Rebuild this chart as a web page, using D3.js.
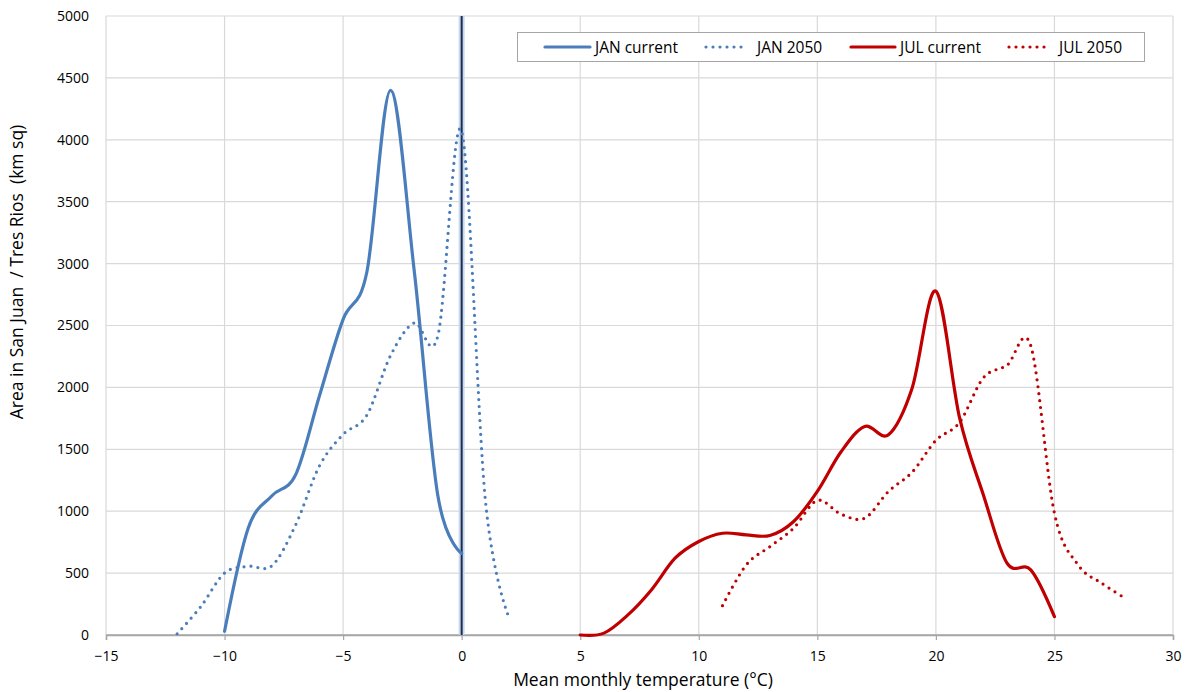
<!DOCTYPE html>
<html>
<head>
<meta charset="utf-8">
<script src="https://cdn.jsdelivr.net/npm/d3@7"></script>
<style>
  body { margin: 0; background: #fff; }
  text { font-family: "Open Sans", Lato, sans-serif; fill: #000; }
</style>
</head>
<body>
<div id="chart"></div>
<script>
// Series
const janCurrentTemp = [-10, -9, -8, -7, -6, -5, -4, -3, -2, -1, 0];
const janCurrentArea = [30, 865, 1125, 1295, 1930, 2550, 2930, 4400, 2940, 1120, 660];

const jan2050Temp = [-12, -11, -10, -9, -8, -7, -6, -5, -4, -3, -2, -1, 0, 1, 2];
const jan2050Area = [10, 230, 500, 555, 560, 890, 1365, 1620, 1775, 2257, 2521, 2420, 4070, 1090, 140];

const julCurrentTemp = [5, 6, 7, 8, 9, 10, 11, 12, 13, 14, 15, 16, 17, 18, 19, 20, 21, 22, 23, 24, 25];
const julCurrentArea = [0, 15, 160, 364, 620, 755, 822, 809, 804, 917, 1160, 1480, 1685, 1618, 1996, 2778, 1753, 1133, 580, 526, 148];

const jul2050Temp = [11, 12, 13, 14, 15, 16, 17, 18, 19, 20, 21, 22, 23, 24, 25, 26, 27, 28];
const jul2050Area = [237, 566, 714, 863, 1087, 976, 944, 1160, 1316, 1572, 1718, 2077, 2179, 2338, 984, 566, 418, 295];

const seriesNames = ["JAN current", "JAN 2050", "JUL current", "JUL 2050"];
const xTicks = [-15, -10, -5, 0, 5, 10, 15, 20, 25, 30];
const yTicks = [0, 500, 1000, 1500, 2000, 2500, 3000, 3500, 4000, 4500, 5000];

function init() {
    var w = 1187;
    var h = 692;
    var left = 106, right = 1173, top = 16, bottom = 635;

    const svg = d3.select("#chart")
        .append("svg")
        .attr("width", w)
        .attr("height", h);

    const xScale = d3.scaleLinear().domain([-15, 30]).range([left, right]);
    const yScale = d3.scaleLinear().domain([0, 5000]).range([bottom, top]);

    // gridlines
    svg.append("g").selectAll("line")
        .data(yTicks.filter(d => d > 0))
        .enter().append("line")
        .attr("x1", left).attr("x2", right)
        .attr("y1", d => yScale(d)).attr("y2", d => yScale(d))
        .attr("stroke", "#d9d9d9").attr("stroke-width", 1.2);

    svg.append("g").selectAll("line")
        .data(xTicks)
        .enter().append("line")
        .attr("x1", d => xScale(d)).attr("x2", d => xScale(d))
        .attr("y1", top).attr("y2", bottom)
        .attr("stroke", "#d9d9d9").attr("stroke-width", 1.2);

    // x axis
    const xAxis = d3.axisBottom(xScale).tickValues(xTicks).tickSize(5).tickPadding(11);
    const gx = svg.append("g")
        .attr("transform", `translate(0, ${bottom})`)
        .call(xAxis);
    gx.select(".domain").attr("stroke", "#a6a6a6").attr("stroke-width", 1.5);
    gx.selectAll(".tick line").attr("stroke", "#a6a6a6").attr("stroke-width", 1.2);
    gx.selectAll("text").style("font-size", "14px").attr("fill", "#000");

    // y axis labels only
    const yAxis = d3.axisLeft(yScale).tickValues(yTicks).tickFormat(d3.format("d")).tickSize(0).tickPadding(17);
    const gy = svg.append("g")
        .attr("transform", `translate(${left}, 0)`)
        .call(yAxis);
    gy.select(".domain").remove();
    gy.selectAll("text").style("font-size", "14px").attr("fill", "#000");

    // redraw baseline over gridlines
    svg.append("line")
        .attr("x1", left).attr("x2", right)
        .attr("y1", bottom).attr("y2", bottom)
        .attr("stroke", "#a6a6a6").attr("stroke-width", 1.5);

    // vertical marker at 0 with soft glow
    svg.append("line")
        .attr("x1", xScale(0)).attr("x2", xScale(0))
        .attr("y1", top).attr("y2", bottom)
        .attr("stroke", "#c6d9f1").attr("stroke-width", 6);
    svg.append("line")
        .attr("x1", xScale(0)).attr("x2", xScale(0))
        .attr("y1", top).attr("y2", bottom)
        .attr("stroke", "#1f2d4d").attr("stroke-width", 2);

    const line = d3.line()
        .x(d => xScale(d[0]))
        .y(d => yScale(d[1]))
        .curve(d3.curveCardinal.tension(0));

    const series = [
        { temp: janCurrentTemp, area: janCurrentArea, color: "#4a7ebb", dotted: false },
        { temp: jan2050Temp, area: jan2050Area, color: "#4a7ebb", dotted: true },
        { temp: julCurrentTemp, area: julCurrentArea, color: "#c00000", dotted: false },
        { temp: jul2050Temp, area: jul2050Area, color: "#c00000", dotted: true }
    ];

    series.forEach(s => {
        const pts = s.temp.map((t, i) => [t, s.area[i]]);
        svg.append("path")
            .datum(pts)
            .attr("d", line)
            .attr("fill", "none")
            .attr("stroke", s.color)
            .attr("stroke-width", 3.2)
            .attr("stroke-linecap", "round")
            .attr("stroke-linejoin", "round")
            .attr("stroke-dasharray", s.dotted ? "0 7" : null);
    });

    // legend
    const legend = svg.append("g");
    legend.append("rect")
        .attr("x", 517.5).attr("y", 32.5)
        .attr("width", 627).attr("height", 29)
        .attr("fill", "#fff").attr("stroke", "#a6a6a6").attr("stroke-width", 1);

    const legX = [545, 706, 851, 1009];
    const legLen = [45, 40, 44, 40];
    const legTextX = [595, 757, 900, 1059];
    series.forEach((s, i) => {
        legend.append("line")
            .attr("x1", legX[i]).attr("x2", legX[i] + legLen[i])
            .attr("y1", 47).attr("y2", 47)
            .attr("stroke", s.color).attr("stroke-width", 3.2)
            .attr("stroke-linecap", "round")
            .attr("stroke-dasharray", s.dotted ? "0 7" : null);
        legend.append("text")
            .attr("x", legTextX[i]).attr("y", 52.5)
            .style("font-size", "15.5px")
            .text(seriesNames[i]);
    });

    // axis titles
    svg.append("text")
        .attr("x", 643).attr("y", 686)
        .attr("text-anchor", "middle")
        .style("font-size", "17.5px")
        .text("Mean monthly temperature (°C)");

    svg.append("text")
        .attr("transform", "translate(23, 272) rotate(-90)")
        .attr("text-anchor", "middle")
        .style("font-size", "17.5px")
        .style("white-space", "pre")
        .text("Area in San Juan  / Tres Rios  (km sq)");
}

window.onload = init;
</script>
</body>
</html>
